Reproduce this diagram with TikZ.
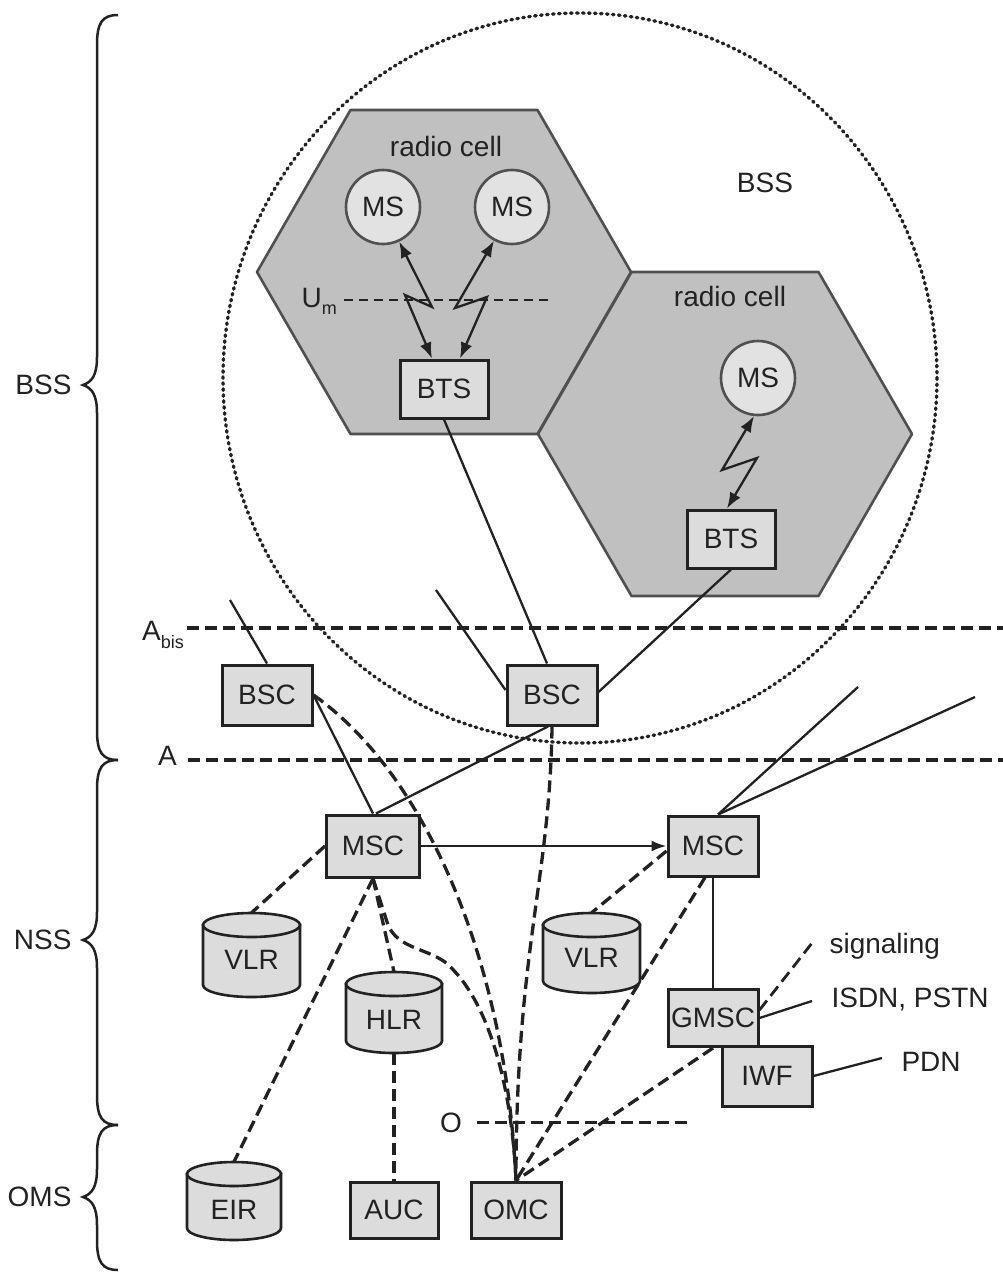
\documentclass[tikz,border=0pt]{standalone}
\usepackage{fontspec}
\setmainfont{Liberation Sans}
\usetikzlibrary{arrows.meta}
\definecolor{hexfill}{HTML}{C0C0C0}
\definecolor{hexedge}{HTML}{505050}
\definecolor{boxfill}{HTML}{DCDCDC}
\definecolor{ink}{HTML}{222222}
\definecolor{msfill}{HTML}{E2E2E2}
\newcommand\gsmcyl[7]{%
  \path[cylpart] (#2-#5,#3) -- (#2-#5,#4) arc[start angle=180,end angle=0,x radius=#5,y radius=12] -- (#2+#5,#3) -- cycle;
  \path[cylpart] (#2,#3) ellipse[x radius=#5,y radius=12];
  \node[inner sep=0pt, minimum width={2*#5}, minimum height={2*(#7-#3+12)}] (#1) at (#2,#7) {#6};
  \coordinate (#1-bot) at (#2,#4+12);
}
\newcommand\gsmbrace[3]{%
  \draw[bracestyle] (118,#1) .. controls (102,#1) and (97,#1+8) .. (97,#1+30) -- (97,#2-28)
    .. controls (97,#2-10) and (92,#2-3) .. (83,#2) .. controls (92,#2+3) and (97,#2+10) .. (97,#2+28)
    -- (97,#3-30) .. controls (97,#3-8) and (102,#3) .. (118,#3);
}
\begin{document}
\begin{tikzpicture}[x=1pt,y=-1pt,
  every node/.style={font=\fontsize{28}{32}\selectfont, text=ink},
  gbox/.style={draw=ink, line width=3pt, fill=boxfill, minimum width=90pt, minimum height=58pt, inner sep=0pt},
  msnode/.style={circle, draw=hexedge, line width=2.6pt, fill=msfill, minimum size=74pt, inner sep=0pt},
  hexcell/.style={fill=hexfill, draw=hexedge, line width=2.6pt, line join=round},
  cylpart/.style={fill=boxfill, draw=ink, line width=2.6pt},
  solidline/.style={draw=ink, line width=2.3pt},
  dashline/.style={draw=ink, line width=3.3pt, dash pattern=on 12pt off 6pt},
  ifline/.style={draw=ink, line width=3.5pt, dash pattern=on 12pt off 6pt},
  dotline/.style={draw=ink, line width=3.4pt, dash pattern=on 1.5pt off 4.5pt, line cap=round},
  radio/.style={draw=ink, line width=2.3pt, >={Latex[length=16pt,width=12pt]}, <->},
  bracestyle/.style={draw=ink, line width=2.5pt},
  lbl/.style={inner sep=1pt},
]
\useasboundingbox (0,0) rectangle (1003,1277);
\fill[white] (0,0) rectangle (1003,1277);

% BSS dotted boundary
\draw[dotline] (580,378) ellipse[x radius=357, y radius=365];

% radio cells
\path[hexcell] (631,272) -- (537.5,110) -- (350.5,110) -- (257,272) -- (350.5,434) -- (537.5,434) -- cycle;
\path[hexcell] (912,434) -- (818.5,272) -- (631.5,272) -- (538,434) -- (631.5,596) -- (818.5,596) -- cycle;
\node (rc1) at (446,146) {radio cell};
\node (rc2) at (730,296) {radio cell};
\node (bssin) at (765,183) {BSS};

% mobile stations and BTS
\node[msnode] (ms1) at (383,207) {MS};
\node[msnode] (ms2) at (512,207) {MS};
\node[msnode] (ms3) at (758,378) {MS};
\node[gbox, minimum width=88pt] (bts1) at (444,389) {BTS};
\node[gbox, minimum width=88pt] (bts2) at (731,539) {BTS};

% Um interface
\node[lbl, anchor=base east] (um) at (338,307) {U\raisebox{-7pt}{\fontsize{18}{20}\selectfont m}};
\coordinate (umend) at (548,300);
\draw[ink, line width=2.4pt, dash pattern=on 9pt off 6pt] ([xshift=6pt]um.east |- umend) -- (umend);

% radio links
\draw[radio] (ms1.-65) -- (432,307) -- (405,295) -- ([xshift=-12pt]bts1.north);
\draw[radio] (ms2.-118) -- (455,308) -- (487,297) -- ([xshift=16pt]bts1.north);
\draw[radio] (ms3.-96) -- (722,470) -- (757,458) -- ([xshift=-4pt]bts2.north);

% BSCs
\node[gbox, minimum height=60pt] (bsc1) at (267,695) {BSC};
\node[gbox, minimum height=60pt] (bsc2) at (552,695) {BSC};
\coordinate (bsc1in) at (230,600);
\coordinate (bsc2in) at (436,590);
\draw[solidline] (bsc1in) -- (bsc1.north);
\draw[solidline] (bts1.south) -- ([xshift=-5pt]bsc2.north);
\draw[solidline] (bsc2in) -- ([yshift=5pt]bsc2.west);
\draw[solidline] (bts2.south) -- ([yshift=3pt]bsc2.east);

% Abis and A interfaces
\node[lbl, anchor=base east] (abis) at (185,640) {A\raisebox{-8pt}{\fontsize{18}{20}\selectfont bis}};
\coordinate (abisend) at (1003,628);
\draw[ifline] ([xshift=2pt]abis.east |- abisend) -- (abisend);
\node[lbl, anchor=base east] (alab) at (178,765) {A};
\coordinate (aend) at (1003,760);
\draw[ifline] ([xshift=10pt]alab.east |- aend) -- (aend);

% MSCs
\node[gbox, minimum width=93pt, minimum height=62pt] (msc1) at (373,846) {MSC};
\node[gbox, minimum height=60pt] (msc2) at (713,846) {MSC};
\draw[solidline] (bsc1.east) -- (msc1.north);
\draw[solidline] ([xshift=-4pt]bsc2.south) -- ([xshift=3pt]msc1.north);
\draw[solidline, -{Latex[length=15pt,width=11pt]}] (msc1.east) -- (msc2.west);
\coordinate (msc2a) at (858,687);
\coordinate (msc2b) at (975,697);
\draw[solidline] ([xshift=5pt]msc2.north) -- (msc2a);
\draw[solidline] ([xshift=5pt]msc2.north) -- (msc2b);

% databases
\gsmcyl{vlr1}{251.5}{925}{985}{48.5}{VLR}{960}
\gsmcyl{hlr}{394}{984}{1041}{48}{HLR}{1020}
\gsmcyl{vlr2}{591.5}{925}{981}{48.5}{VLR}{958}
\gsmcyl{eir}{234}{1174}{1228}{47}{EIR}{1210}

% GMSC, IWF, AUC, OMC
\node[gbox, minimum height=57pt] (gmsc) at (713,1018) {GMSC};
\node[gbox, minimum height=60pt] (iwf) at (767,1076) {IWF};
\node[gbox, minimum width=88pt, minimum height=56pt] (auc) at (394,1210) {AUC};
\node[gbox, minimum height=56pt] (omc) at (516,1210) {OMC};
\draw[solidline] (msc2.south) -- (gmsc.north);

% external networks
\node[anchor=west] (siglbl) at (826,946) {signaling};
\node[anchor=west] (isdnlbl) at (828,1000) {ISDN, PSTN};
\node[anchor=west] (pdnlbl) at (898,1062) {PDN};
\coordinate (sig) at (812,943);
\coordinate (isdn) at (812,1001);
\coordinate (pdn) at (882,1058);
\draw[dashline, line width=2.8pt] ([yshift=8pt]gmsc.east) -- (sig);
\draw[solidline] (gmsc.east) -- (isdn);
\draw[solidline] (iwf.east) -- (pdn);

% O interface
\node[lbl, anchor=base east] (olab) at (463,1132) {O};
\coordinate (oend) at (690,1122);
\draw[ifline, line width=3pt] ([xshift=14pt]olab.east |- oend) -- (oend);

% signalling / management links
\draw[dashline] (msc1.west) -- (vlr1.north);
\draw[dashline] (msc1.south) -- (eir.north);
\draw[dashline] (msc1.south) -- (hlr.north);
\draw[dashline] (msc1.south) -- (388,925) .. controls (398,948) and (425,948) .. (445,962) .. controls (490,1000) and (512,1090) .. (omc.north);
\draw[dashline] (bsc1.east) .. controls (420,770) and (505,950) .. (omc.north);
\draw[dashline] (bsc2.south) .. controls (550,880) and (516,950) .. (omc.north);
\draw[dashline] ([yshift=-5pt]msc2.west) -- (vlr2.north);
\draw[dashline] ([xshift=-8pt]msc2.south) -- (omc.north);
\draw[dashline] (gmsc.south) -- (omc.north);
\draw[dashline] (hlr-bot) -- (auc.north);

% subsystem braces
\gsmbrace{15}{385}{760}
\gsmbrace{760}{940}{1125}
\gsmbrace{1125}{1197}{1270}
\node[anchor=east] (bsslbl) at (75,385) {BSS};
\node[anchor=east] (nsslbl) at (75,940) {NSS};
\node[anchor=east] (omslbl) at (75,1197) {OMS};
\end{tikzpicture}
\end{document}
